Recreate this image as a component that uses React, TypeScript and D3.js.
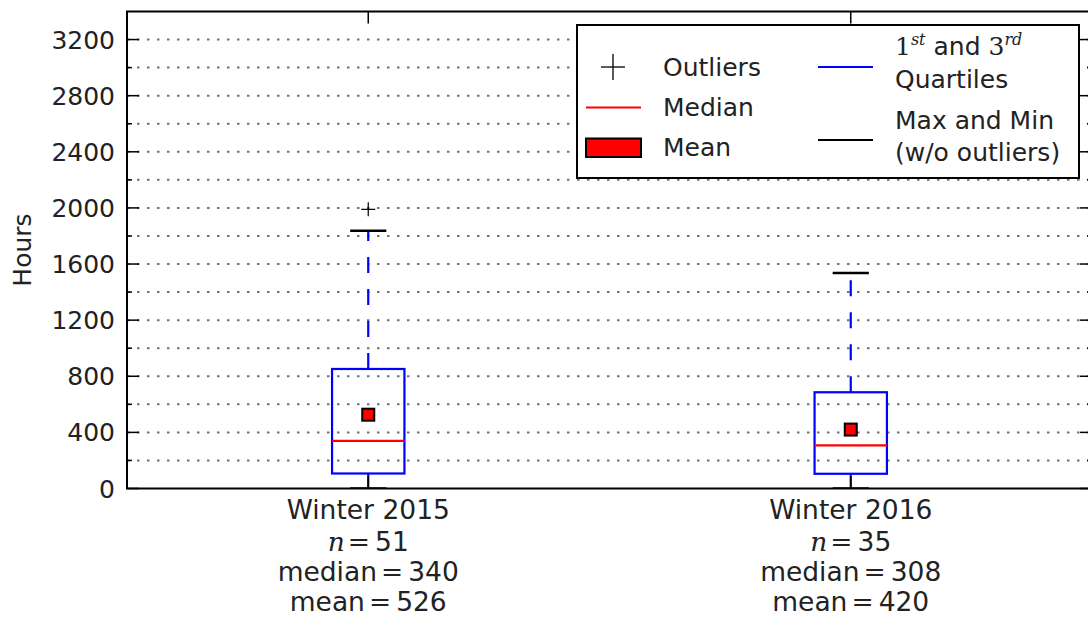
import React from "react";
import * as d3 from "d3";

// Seasonal usage hours, summarised per winter
const categories = ["Winter 2015", "Winter 2016"];
const counts = [51, 35];
const medians = [340, 308];
const means = [526, 420];
const q1 = [107, 105];
const q3 = [852, 686];
const whiskerLow = [0, 0];
const whiskerHigh = [1838, 1536];
const outliers: number[][] = [[1990], []];

const majorTicks = d3.range(0, 3201, 400);
const minorTicks = d3.range(200, 3400, 400);

const W = 1088;
const H = 618;
const plot = { left: 127, right: 1092, top: 11.5, bottom: 488.5 };

const SANS = "DejaVu Sans, sans-serif";
const SERIF = "DejaVu Serif, Liberation Serif, serif";
const FS = 25;
const FS_CAT = 26.5;

export default function App() {
  const y = d3.scaleLinear().domain([0, 3400]).range([plot.bottom, plot.top]);
  const x = d3.scaleLinear().domain([0.5, 2.5]).range([plot.left, plot.right]);
  const boxW = x(1.15) - x(1);
  const capW = boxW / 2;
  const gridVals = [...majorTicks.filter((v) => v > 0), ...minorTicks];

  return (
    <svg
      width={W}
      height={H}
      style={{ position: "absolute", left: 0, top: 0, background: "#fff" }}
      fontFamily={SANS}
    >
      <defs>
        <clipPath id="plotArea">
          <rect x={plot.left} y={plot.top} width={plot.right - plot.left} height={plot.bottom - plot.top} />
        </clipPath>
      </defs>

      {/* dotted grid */}
      <g stroke="#444" strokeWidth={2} strokeDasharray="2.5,7.5" opacity={0.75}>
        {gridVals.map((v) => (
          <line key={v} x1={plot.left} x2={plot.right} y1={y(v)} y2={y(v)} />
        ))}
      </g>

      {/* boxes */}
      <g clipPath="url(#plotArea)">
        {categories.map((c, i) => {
          const cx = x(i + 1);
          return (
            <g key={c}>
              <line x1={cx} x2={cx} y1={y(q3[i])} y2={y(whiskerHigh[i])} stroke="#0000ff" strokeWidth={2.2} strokeDasharray="16,16" />
              <line x1={cx} x2={cx} y1={y(q1[i])} y2={y(whiskerLow[i])} stroke="#0000ff" strokeWidth={2.2} strokeDasharray="16,16" />
              <line x1={cx - capW / 2} x2={cx + capW / 2} y1={y(whiskerHigh[i])} y2={y(whiskerHigh[i])} stroke="#000" strokeWidth={2.5} />
              <line x1={cx - capW / 2} x2={cx + capW / 2} y1={y(whiskerLow[i])} y2={y(whiskerLow[i])} stroke="#000" strokeWidth={2.5} />
              <rect x={cx - boxW / 2} y={y(q3[i])} width={boxW} height={y(q1[i]) - y(q3[i])} fill="none" stroke="#0000ff" strokeWidth={2.2} />
              <line x1={cx - boxW / 2} x2={cx + boxW / 2} y1={y(medians[i])} y2={y(medians[i])} stroke="#ff0000" strokeWidth={2.2} />
              <rect x={cx - 6} y={y(means[i]) - 6} width={12} height={12} fill="#ff0000" stroke="#000" strokeWidth={2} />
              {outliers[i].map((o, j) => (
                <g key={j} stroke="#000" strokeWidth={1.2}>
                  <line x1={cx - 7} x2={cx + 7} y1={y(o)} y2={y(o)} />
                  <line x1={cx} x2={cx} y1={y(o) - 7} y2={y(o) + 7} />
                </g>
              ))}
            </g>
          );
        })}
      </g>

      {/* ticks on all four spines */}
      <g stroke="#000" strokeWidth={1.5}>
        {majorTicks.map((v) => (
          <g key={"M" + v}>
            <line x1={plot.left} x2={plot.left + 12} y1={y(v)} y2={y(v)} />
            <line x1={plot.right - 12} x2={plot.right} y1={y(v)} y2={y(v)} />
          </g>
        ))}
        {minorTicks.map((v) => (
          <g key={"m" + v}>
            <line x1={plot.left} x2={plot.left + 5} y1={y(v)} y2={y(v)} />
            <line x1={plot.right - 5} x2={plot.right} y1={y(v)} y2={y(v)} />
          </g>
        ))}
        {categories.map((c, i) => (
          <g key={"t" + c}>
            <line x1={x(i + 1)} x2={x(i + 1)} y1={plot.bottom} y2={plot.bottom - 12} />
            <line x1={x(i + 1)} x2={x(i + 1)} y1={plot.top} y2={plot.top + 12} />
          </g>
        ))}
      </g>

      {/* frame */}
      <rect x={plot.left} y={plot.top} width={plot.right - plot.left} height={plot.bottom - plot.top} fill="none" stroke="#000" strokeWidth={2} />

      {/* y tick labels */}
      <g fontSize={FS} fill="#222" textAnchor="end">
        {majorTicks.map((v) => (
          <text key={v} x={115} y={y(v)} dy="0.36em">
            {v}
          </text>
        ))}
      </g>
      <text transform={`translate(31,${(plot.top + plot.bottom) / 2}) rotate(-90)`} textAnchor="middle" fontSize={FS} fill="#222">
        Hours
      </text>

      {/* category labels with summary stats */}
      <g fontSize={FS_CAT} fill="#222" textAnchor="middle">
        {categories.map((c, i) => {
          const cx = x(i + 1);
          return (
            <g key={c}>
              <text x={cx} y={519}>{c}</text>
              <text x={cx} y={551}>
                <tspan fontFamily={SERIF} fontStyle="italic">n</tspan>
                <tspan fontFamily={SERIF} dx={3}>=</tspan>
                <tspan dx={5}>{counts[i]}</tspan>
              </text>
              <text x={cx} y={581}>
                median
                <tspan fontFamily={SERIF} dx={4}>=</tspan>
                <tspan dx={5}>{medians[i]}</tspan>
              </text>
              <text x={cx} y={611}>
                mean
                <tspan fontFamily={SERIF} dx={4}>=</tspan>
                <tspan dx={5}>{means[i]}</tspan>
              </text>
            </g>
          );
        })}
      </g>

      {/* legend */}
      <g>
        <rect x={577} y={25} width={502} height={153} fill="#fff" stroke="#000" strokeWidth={2} />
        <g stroke="#000" strokeWidth={1.3}>
          <line x1={601} x2={625} y1={67} y2={67} />
          <line x1={613} x2={613} y1={54} y2={80} />
        </g>
        <line x1={586} x2={641} y1={107.5} y2={107.5} stroke="#ff0000" strokeWidth={2} />
        <rect x={586} y={138.5} width={55} height={18.5} fill="#ff0000" stroke="#000" strokeWidth={2} />
        <line x1={818} x2={873} y1={67} y2={67} stroke="#0000ff" strokeWidth={2} />
        <line x1={818} x2={873} y1={140} y2={140} stroke="#000" strokeWidth={2} />
        <g fontSize={FS} fill="#222">
          <text x={663} y={76}>Outliers</text>
          <text x={663} y={116}>Median</text>
          <text x={663} y={156}>Mean</text>
          <text x={895} y={55}>
            <tspan fontFamily={SERIF}>1</tspan>
            <tspan fontFamily={SERIF} fontStyle="italic" fontSize={16} dy={-10}>st</tspan>
            <tspan dy={10}> and </tspan>
            <tspan fontFamily={SERIF}>3</tspan>
            <tspan fontFamily={SERIF} fontStyle="italic" fontSize={16} dy={-10}>rd</tspan>
          </text>
          <text x={895} y={88}>Quartiles</text>
          <text x={895} y={129}>Max and Min</text>
          <text x={895} y={161}>(w/o outliers)</text>
        </g>
      </g>
    </svg>
  );
}
